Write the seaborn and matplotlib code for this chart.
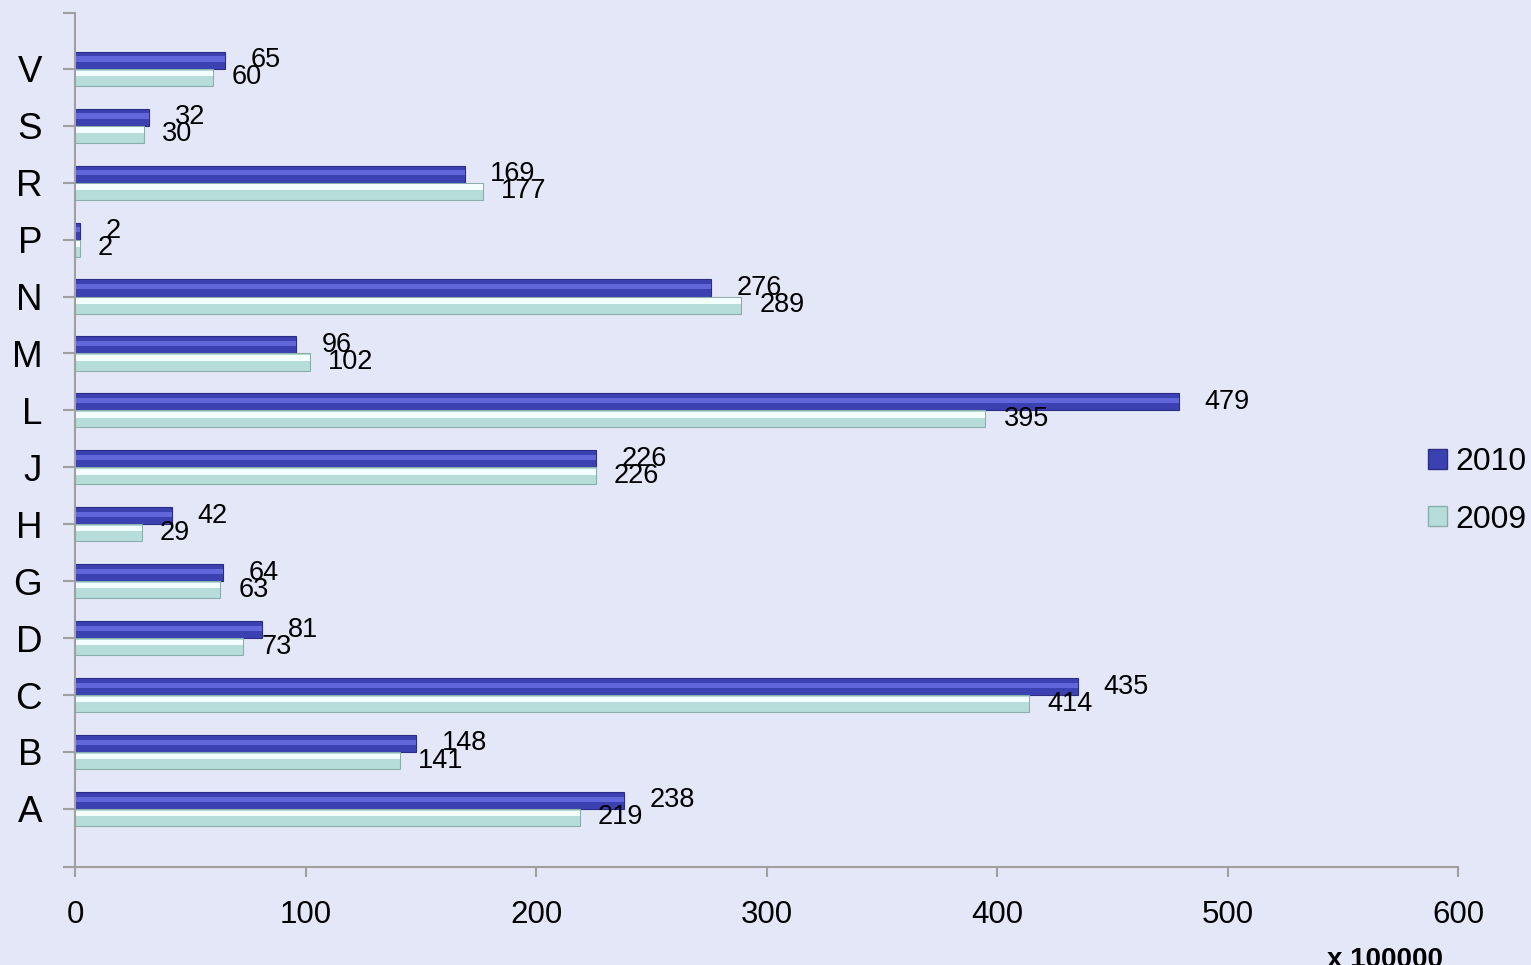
import matplotlib
matplotlib.use("Agg")
import matplotlib.pyplot as plt
import matplotlib.patches as mpatches
import seaborn as sns
import pandas as pd

categories = ["V", "S", "R", "P", "N", "M", "L", "J", "H", "G", "D", "C", "B", "A"]
values_2010 = [65, 32, 169, 2, 276, 96, 479, 226, 42, 64, 81, 435, 148, 238]
values_2009 = [60, 30, 177, 2, 289, 102, 395, 226, 29, 63, 73, 414, 141, 219]
series = ["2010", "2009"]
x_ticks = [0, 100, 200, 300, 400, 500, 600]
unit_label = "x 100000"

BG = "#E4E7F7"
C2010 = "#3C41B2"
C2010_HI = "#6167DB"
C2009 = "#B6DDD9"
C2009_HI = "#F2FFFE"
GRAY = "#A0A0A0"

sns.set_style("white")
plt.rcParams["font.family"] = ["Liberation Sans", "DejaVu Sans"]
plt.rcParams["text.color"] = "black"

df = pd.DataFrame({
    "cat": categories * 2,
    "val": values_2010 + values_2009,
    "year": ["2010"] * len(categories) + ["2009"] * len(categories),
})

fig = plt.figure(figsize=(15.31, 9.65), dpi=100)
fig.patch.set_facecolor(BG)
ax = fig.add_axes([75 / 1531, (965 - 867) / 965, 1383 / 1531, 854 / 965])
ax.set_facecolor(BG)

sns.barplot(data=df, x="val", y="cat", hue="year", order=categories,
            hue_order=series, palette={"2010": C2010, "2009": C2009},
            orient="h", width=0.6, legend=False, ax=ax,
            edgecolor="none", linewidth=0, saturation=1)

# bevel highlights + value labels
for cont, year, pad in zip(ax.containers, series, [18.5, 13]):
    for p in cont.patches:
        x0, y0 = p.get_x(), p.get_y()
        w, h = p.get_width(), p.get_height()
        if year == "2010":
            p.set_edgecolor("#2A2D85")
            p.set_linewidth(0.8)
            hi = mpatches.Rectangle((x0, y0 + 0.28 * h), w, 0.3 * h,
                                    facecolor=C2010_HI, edgecolor="none", zorder=p.get_zorder() + 0.1)
        else:
            p.set_edgecolor("#8AAEAB")
            p.set_linewidth(0.8)
            hi = mpatches.Rectangle((x0, y0 + 0.1 * h), w, 0.32 * h,
                                    facecolor=C2009_HI, edgecolor="none", zorder=p.get_zorder() + 0.1)
        ax.add_patch(hi)
    ax.bar_label(cont, labels=[str(int(v)) for v in cont.datavalues],
                 padding=pad, fontsize=19.5, color="black")

ax.set_xlim(0, 600)
ax.set_ylim(14.02, -0.98)
ax.set_xticks(x_ticks)
ax.set_xticklabels([str(t) for t in x_ticks])
ax.set_xlabel("")
ax.set_ylabel("")

ax.set_yticks(range(len(categories)), minor=False)
ax.set_yticklabels(categories)
ax.set_yticks([-0.98, 14.02], minor=True)

for s in ["top", "right"]:
    ax.spines[s].set_visible(False)
for s in ["left", "bottom"]:
    ax.spines[s].set_color(GRAY)
    ax.spines[s].set_linewidth(1.5)

ax.tick_params(axis="y", which="both", direction="out", length=8.6, width=1.5,
               color=GRAY, labelsize=26.5, pad=15, left=True, labelcolor="black")
ax.tick_params(axis="x", which="both", direction="out", length=7.5, width=1.5,
               color=GRAY, labelsize=22.5, pad=16, bottom=True, labelcolor="black")
ax.grid(False)

fig.text(1385 / 1531, 1 - 947 / 965, unit_label, fontsize=20, fontweight="bold",
         ha="center", va="top", color="black")

handles = [mpatches.Patch(facecolor=C2010, edgecolor="#2A2D85", label="2010"),
           mpatches.Patch(facecolor=C2009, edgecolor="#8AAEAB", label="2009")]
leg = fig.legend(handles=handles, loc="center left", bbox_to_anchor=(1428 / 1531, 1 - 491 / 965),
                 frameon=False, fontsize=23, handlelength=0.6, handleheight=0.6,
                 handletextpad=0.25, labelspacing=0.85, borderpad=0, borderaxespad=0)
for t in leg.get_texts():
    t.set_color("black")

fig.savefig("out.png", dpi=100, facecolor=BG)
